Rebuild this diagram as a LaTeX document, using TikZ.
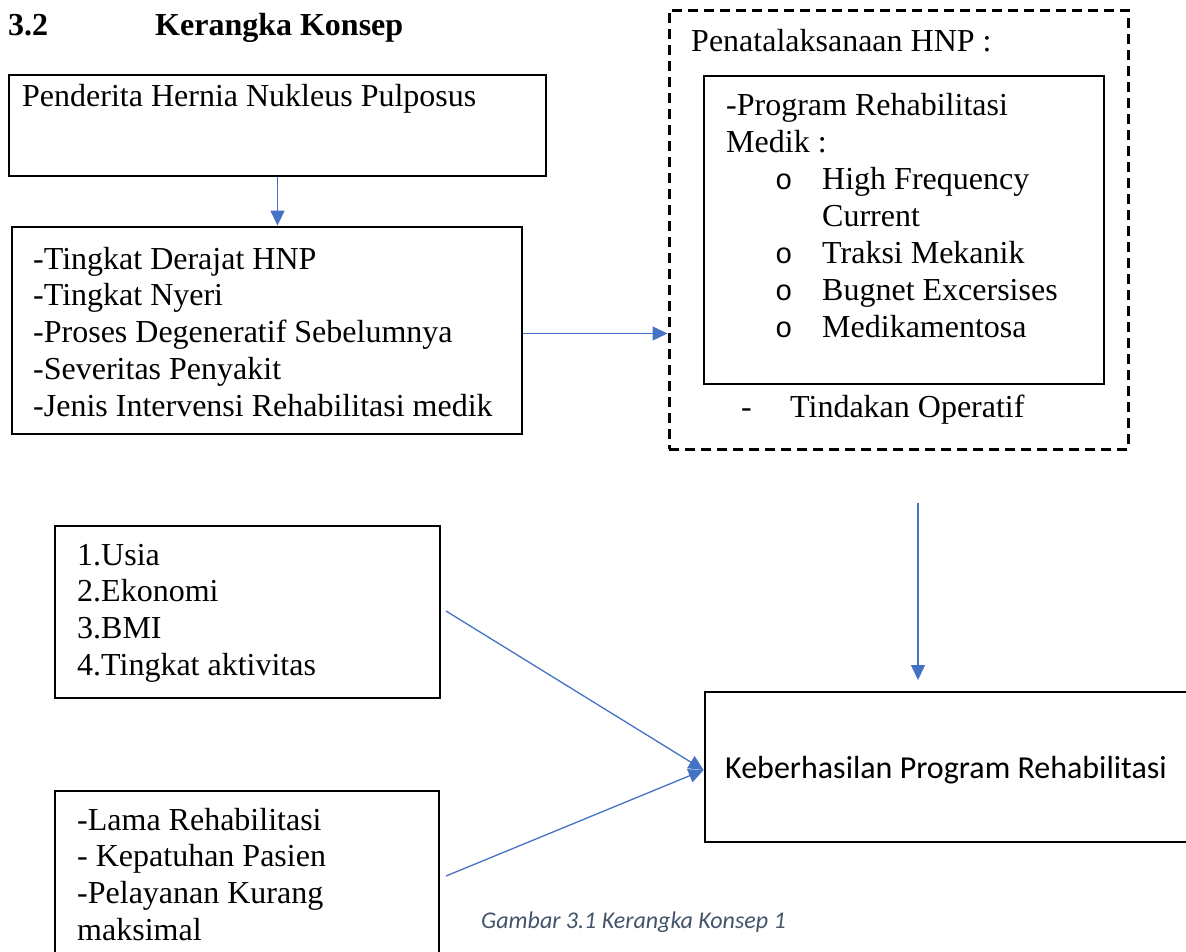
\documentclass[tikz,border=0pt]{standalone}
\usepackage{fontspec}
\setmainfont{Liberation Serif}
\newfontfamily\calfont{Carlito}
\newfontfamily\bulletfont{Liberation Mono}
\usetikzlibrary{arrows.meta}
\definecolor{arrowblue}{HTML}{4472C4}
\definecolor{capgray}{HTML}{44546A}
\begin{document}
\begin{tikzpicture}[x=1pt,y=-1pt,
  box/.style={draw=black,line width=2.8pt,inner sep=0pt,rectangle},
  dbox/.style={draw=black,line width=3pt,dash pattern=on 10pt off 6pt,inner sep=0pt,rectangle},
  txt/.style={anchor=base west,inner sep=0pt,font=\fontsize{32}{36.75}\selectfont},
  bul/.style={anchor=base west,inner sep=0pt,font=\bulletfont\fontsize{29}{32}\selectfont},
  conn/.style={draw=arrowblue,line width=1.3pt,-{Triangle[length=15pt,width=14pt]}},
]
\useasboundingbox (0,0) rectangle (1186,951);
\fill[white] (0,0) rectangle (1186,951);
\clip (0,0) rectangle (1186,951);

% title
\node[txt,font=\bfseries\fontsize{32}{36}\selectfont] (num) at (8,35) {3.2};
\node[txt,font=\bfseries\fontsize{32}{36}\selectfont] (title) at (155,35) {Kerangka Konsep};

% boxes
\node[box,minimum width=537pt,minimum height=101pt] (b1) at (277.5,125.5) {};
\node[box,minimum width=510pt,minimum height=207pt] (b2) at (267,330.5) {};
\node[dbox,minimum width=459pt,minimum height=439pt] (pen) at (898.5,229.5) {};
\node[box,minimum width=400pt,minimum height=308pt] (prog) at (904,230) {};
\node[box,minimum width=385pt,minimum height=172pt] (fak) at (247.5,612) {};
\node[box,minimum width=384pt,minimum height=169pt] (lama) at (247,875.5) {};
\node[box,minimum width=495pt,minimum height=150pt] (keb) at (952.5,767) {};

% texts
\node[txt] (t1) at (22,106) {Penderita Hernia Nukleus Pulposus};
\foreach \t [count=\i] in {-Tingkat Derajat HNP,-Tingkat Nyeri,-Proses Degeneratif Sebelumnya,-Severitas Penyakit,-Jenis Intervensi Rehabilitasi medik}
  \node[txt] (t2l\i) at (33,{269+36.75*(\i-1)}) {\t};
\node[txt] (penT) at (691,51) {Penatalaksanaan HNP :};
\node[txt] (pr1) at (726,115) {-Program Rehabilitasi};
\node[txt] (pr2) at (726,152) {Medik :};
\node[bul] (o1) at (775,189) {o};
\node[txt] (i1) at (822,189) {High Frequency};
\node[txt] (i1b) at (822,226) {Current};
\node[bul] (o2) at (775,263) {o};
\node[txt] (i2) at (822,263) {Traksi Mekanik};
\node[bul] (o3) at (775,300) {o};
\node[txt] (i3) at (822,300) {Bugnet Excersises};
\node[bul] (o4) at (775,337) {o};
\node[txt] (i4) at (822,337) {Medikamentosa};
\node[txt] (dash) at (741,417) {-};
\node[txt] (op) at (790,417) {Tindakan Operatif};
\foreach \t [count=\i] in {1.Usia,2.Ekonomi,3.BMI,4.Tingkat aktivitas}
  \node[txt] (fl\i) at (77,{565+36.9*(\i-1)}) {\t};
\foreach \t [count=\i] in {-Lama Rehabilitasi,- Kepatuhan Pasien,-Pelayanan Kurang,maksimal}
  \node[txt] (ll\i) at (77,{830+36.7*(\i-1)}) {\t};
\node[txt,font=\calfont\fontsize{32}{36}\selectfont] (kebT) at (725,778) {Keberhasilan Program Rehabilitasi};
\node[txt,font=\calfont\itshape\fontsize{24}{26}\selectfont,text=capgray] (cap) at (481,928) {Gambar 3.1 Kerangka Konsep 1};

% connectors
\draw[conn] (b1.south) -- (b1.south |- b2.north);
\draw[conn] ([yshift=-3pt]b2.east) -- ([yshift=-3pt]b2.east -| pen.west);
\coordinate (downS) at (918,503);
\coordinate (downE) at (918,680);
\draw[conn] (downS) -- (downE);
\coordinate (fakS) at (446,611);
\coordinate (lamaS) at (446,876);
\draw[conn] (fakS) -- ([yshift=-3pt]keb.west);
\draw[conn] (lamaS) -- ([yshift=-3pt]keb.west);
\end{tikzpicture}
\end{document}
